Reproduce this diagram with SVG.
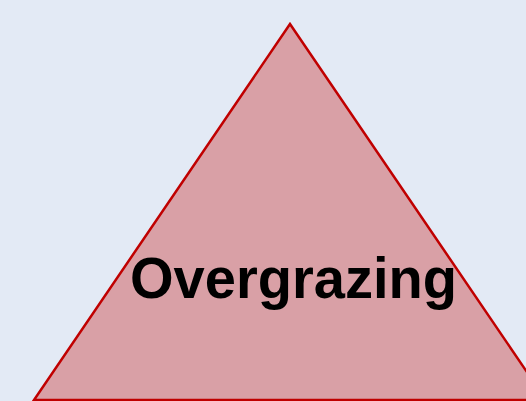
<svg xmlns="http://www.w3.org/2000/svg" width="526" height="401" viewBox="0 0 526 401">
<style>
.tri{fill:#D9A0A6;stroke:#C00000;stroke-width:2.5;stroke-linejoin:miter}
.lbl{font-family:"Liberation Sans",Arial,sans-serif;font-weight:bold;font-size:57px;fill:#000}
</style>
<rect x="0" y="0" width="526" height="401" fill="#E3EAF5"/>
<g id="overgrazing">
<polygon class="tri" points="290,24 34,400 546,400"/>
<text class="lbl" x="293.5" y="298" text-anchor="middle" textLength="327" lengthAdjust="spacingAndGlyphs">Overgrazing</text>
</g>
</svg>
